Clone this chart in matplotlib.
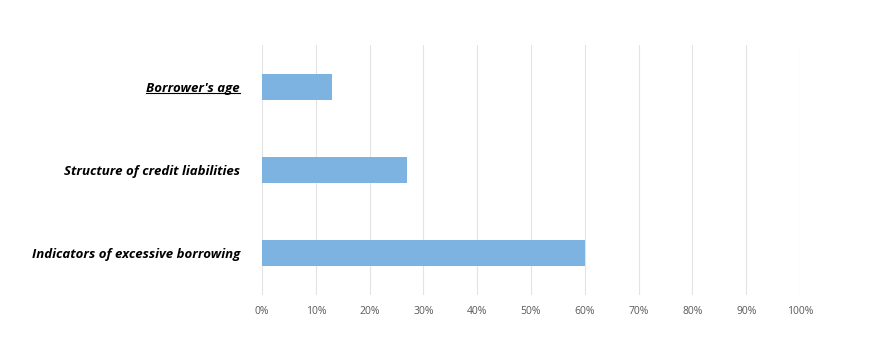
import numpy as np
import matplotlib.pyplot as plt

categories = ["Indicators of excessive borrowing",
              "Structure of credit liabilities",
              "Borrower's age"]
values = [60, 27, 13]
ticks = list(range(0, 101, 10))
tick_labels = [f"{t}%" for t in ticks]

plt.rcParams['font.family'] = ['Open Sans', 'DejaVu Sans']

fig = plt.figure(figsize=(8.69, 3.38), dpi=100)
ax = fig.add_axes([0.3015, 0.127, 0.6191, 0.74])

y = np.arange(len(categories))
ax.barh(y, values, height=0.31, color="#7DB3E1", zorder=3)

ax.set_xlim(0, 100)
ax.set_ylim(-0.5, 2.5)
ax.set_xticks(ticks)
ax.set_xticklabels(tick_labels, color="#595959", fontsize=7.5)
ax.set_yticks(y)
ax.set_yticklabels(categories, fontsize=9.5, fontweight="bold", fontstyle="italic")
ax.tick_params(axis="both", length=0)
ax.tick_params(axis="y", pad=16)
ax.tick_params(axis="x", pad=8)
ax.grid(axis="x", color="#E3E3E3", linewidth=0.8, zorder=0)
for s in ax.spines.values():
    s.set_visible(False)

# underline on the first label, as in the source document
fig.canvas.draw()
lab = ax.get_yticklabels()[2]
bb = lab.get_window_extent().transformed(fig.transFigure.inverted())
fig.add_artist(plt.Line2D([bb.x0, bb.x1], [bb.y0 + 0.006, bb.y0 + 0.006],
                          color="black", linewidth=0.8))

fig.savefig("out.png", dpi=100)
